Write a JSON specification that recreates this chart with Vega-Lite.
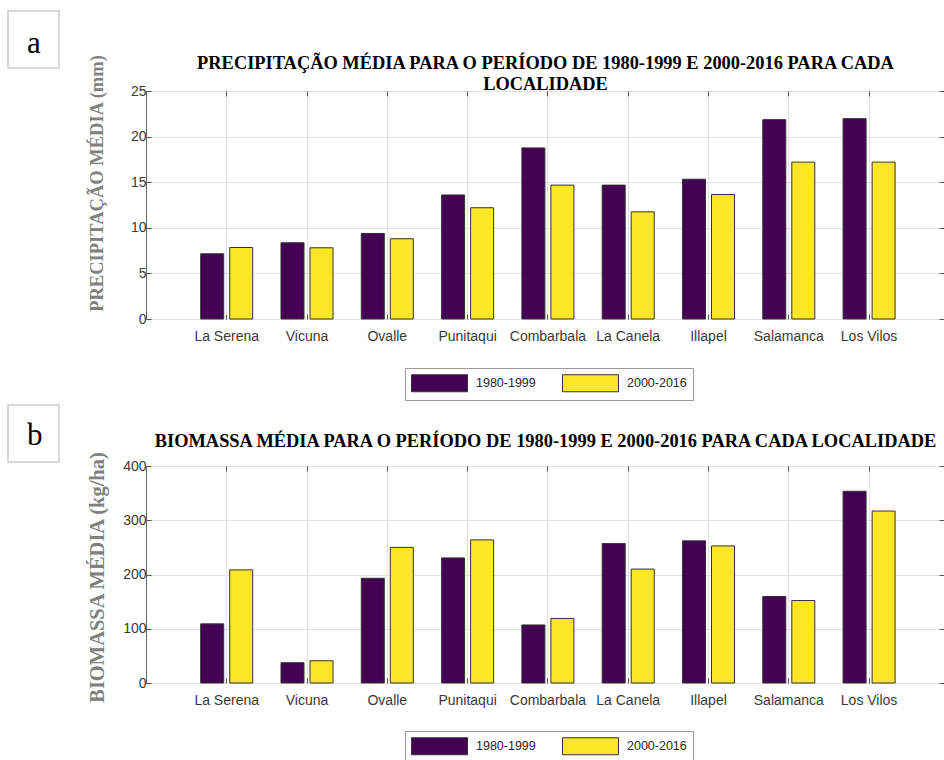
{
  "$schema": "https://vega.github.io/schema/vega-lite/v6.json",
  "background": "white",
  "padding": {"left": 6, "top": 16, "right": 0, "bottom": 0},
  "config": {
    "font": "Liberation Sans",
    "view": {"stroke": "#666666", "strokeWidth": 1}
  },
  "datasets": {
    "precip": [
      {"loc": "La Serena", "period": "1980-1999", "value": 7.15},
      {"loc": "La Serena", "period": "2000-2016", "value": 7.84},
      {"loc": "Vicuna", "period": "1980-1999", "value": 8.36},
      {"loc": "Vicuna", "period": "2000-2016", "value": 7.81},
      {"loc": "Ovalle", "period": "1980-1999", "value": 9.38},
      {"loc": "Ovalle", "period": "2000-2016", "value": 8.8},
      {"loc": "Punitaqui", "period": "1980-1999", "value": 13.6},
      {"loc": "Punitaqui", "period": "2000-2016", "value": 12.2},
      {"loc": "Combarbala", "period": "1980-1999", "value": 18.76},
      {"loc": "Combarbala", "period": "2000-2016", "value": 14.68},
      {"loc": "La Canela", "period": "1980-1999", "value": 14.68},
      {"loc": "La Canela", "period": "2000-2016", "value": 11.75},
      {"loc": "Illapel", "period": "1980-1999", "value": 15.33},
      {"loc": "Illapel", "period": "2000-2016", "value": 13.65},
      {"loc": "Salamanca", "period": "1980-1999", "value": 21.86},
      {"loc": "Salamanca", "period": "2000-2016", "value": 17.2},
      {"loc": "Los Vilos", "period": "1980-1999", "value": 21.97},
      {"loc": "Los Vilos", "period": "2000-2016", "value": 17.2}
    ],
    "biomass": [
      {"loc": "La Serena", "period": "1980-1999", "value": 109},
      {"loc": "La Serena", "period": "2000-2016", "value": 208.5},
      {"loc": "Vicuna", "period": "1980-1999", "value": 37.4},
      {"loc": "Vicuna", "period": "2000-2016", "value": 41},
      {"loc": "Ovalle", "period": "1980-1999", "value": 193},
      {"loc": "Ovalle", "period": "2000-2016", "value": 250},
      {"loc": "Punitaqui", "period": "1980-1999", "value": 230.6},
      {"loc": "Punitaqui", "period": "2000-2016", "value": 263.8},
      {"loc": "Combarbala", "period": "1980-1999", "value": 107},
      {"loc": "Combarbala", "period": "2000-2016", "value": 119},
      {"loc": "La Canela", "period": "1980-1999", "value": 257},
      {"loc": "La Canela", "period": "2000-2016", "value": 210},
      {"loc": "Illapel", "period": "1980-1999", "value": 262},
      {"loc": "Illapel", "period": "2000-2016", "value": 252.7},
      {"loc": "Salamanca", "period": "1980-1999", "value": 159.4},
      {"loc": "Salamanca", "period": "2000-2016", "value": 152},
      {"loc": "Los Vilos", "period": "1980-1999", "value": 353.4},
      {"loc": "Los Vilos", "period": "2000-2016", "value": 317}
    ]
  },
  "spacing": 8,
  "resolve": {"scale": {"color": "independent", "shape": "independent"}, "legend": {"color": "independent", "shape": "independent"}},
  "vconcat": [
    {
      "width": 798, "height": 228,
      "data": {"name": "precip"},
      "resolve": {"axis": {"x": "independent", "y": "independent"}},
      "layer": [
        {
          "mark": {"type": "bar", "stroke": "#333333", "strokeWidth": 1},
          "encoding": {
            "x": {"field": "loc", "type": "nominal",
              "sort": ["La Serena", "Vicuna", "Ovalle", "Punitaqui", "Combarbala", "La Canela", "Illapel", "Salamanca", "Los Vilos"],
              "scale": {"paddingInner": 0.352, "paddingOuter": 0.645, "align": 0.528},
              "axis": {"orient": "bottom", "title": null, "labelAngle": 0, "labelFont": "Liberation Sans", "labelFontSize": 14, "labelColor": "#3a3a3a", "labelPadding": 15, "tickSize": -5, "tickColor": "#555555", "grid": true, "gridColor": "#e2e2e2", "domain": false, "bandPosition": 0.5}},
            "xOffset": {"field": "period", "type": "nominal", "scale": {"paddingInner": 0.207}},
            "y": {"field": "value", "type": "quantitative", "scale": {"domain": [0, 25], "nice": false},
              "axis": {"title": "PRECIPITAÇÃO MÉDIA (mm)", "values": [0, 5, 10, 15, 20, 25], "labelFlush": false, "labelFont": "Liberation Sans", "labelFontSize": 14, "labelColor": "#3a3a3a", "labelPadding": 5, "tickSize": -5, "tickColor": "#555555", "grid": true, "gridColor": "#e2e2e2", "domain": false,
                "titleFont": "Liberation Serif", "titleFontSize": 18.5, "titleFontWeight": "bold", "titleColor": "#808080", "titleX": -40, "titleY": 92}},
            "color": {"field": "period", "type": "nominal",
              "scale": {"domain": ["1980-1999", "2000-2016"], "range": ["#440154", "#fde725"]},
              "legend": {"orient": "none", "legendX": 259, "legendY": 277, "direction": "horizontal", "title": null,
                "symbolType": "M-1,-1H5.588V1H-1Z", "symbolSize": 289, "symbolStrokeColor": "#333333", "symbolStrokeWidth": 1, "symbolOpacity": 1,
                "labelFont": "Liberation Sans", "labelFontSize": 12.5, "labelColor": "#262626", "labelOffset": 47, "columnPadding": 24,
                "padding": 6, "strokeColor": "#999999", "fillColor": "white"}}
          }
        },
        {
          "mark": {"type": "bar", "opacity": 0},
          "encoding": {
            "x": {"field": "loc", "type": "nominal",
              "sort": ["La Serena", "Vicuna", "Ovalle", "Punitaqui", "Combarbala", "La Canela", "Illapel", "Salamanca", "Los Vilos"],
              "axis": {"orient": "top", "labels": false, "tickSize": -5, "tickColor": "#555555", "grid": false, "domain": false, "bandPosition": 0.5,
                "title": ["PRECIPITAÇÃO MÉDIA PARA O PERÍODO DE 1980-1999 E 2000-2016 PARA CADA", "LOCALIDADE"],
                "titleFont": "Liberation Serif", "titleFontSize": 18.4, "titleFontWeight": "bold", "titleColor": "black", "titleLineHeight": 21, "titleBaseline": "bottom", "titlePadding": -3}},
            "xOffset": {"field": "period", "type": "nominal"},
            "y": {"field": "value", "type": "quantitative", "scale": {"domain": [0, 25], "nice": false},
              "axis": {"orient": "right", "title": null, "labels": false, "values": [0, 5, 10, 15, 20, 25], "tickSize": -5, "tickColor": "#555555", "grid": false, "domain": false}}
          }
        },
        {
          "data": {"values": [{"panel": "a"}]},
          "mark": {"type": "point", "opacity": 0},
          "encoding": {
            "shape": {"field": "panel", "type": "nominal", "scale": {"range": ["M-1,-1.2745H1V0.9608H-1Z"]},
              "legend": {"orient": "none", "legendX": -139, "legendY": -74, "title": null,
                "symbolSize": 2601, "symbolFillColor": "white", "symbolStrokeColor": "#cccccc", "symbolStrokeWidth": 1.5, "symbolOpacity": 1,
                "labelFont": "Liberation Serif", "labelFontSize": 31, "labelColor": "black", "labelOffset": -33, "padding": 0}}
          }
        }
      ]
    },
    {
      "width": 798, "height": 217,
      "data": {"name": "biomass"},
      "resolve": {"axis": {"x": "independent", "y": "independent"}},
      "layer": [
        {
          "mark": {"type": "bar", "stroke": "#333333", "strokeWidth": 1},
          "encoding": {
            "x": {"field": "loc", "type": "nominal",
              "sort": ["La Serena", "Vicuna", "Ovalle", "Punitaqui", "Combarbala", "La Canela", "Illapel", "Salamanca", "Los Vilos"],
              "scale": {"paddingInner": 0.352, "paddingOuter": 0.645, "align": 0.528},
              "axis": {"orient": "bottom", "title": null, "labelAngle": 0, "labelFont": "Liberation Sans", "labelFontSize": 14, "labelColor": "#3a3a3a", "labelPadding": 15, "tickSize": -5, "tickColor": "#555555", "grid": true, "gridColor": "#e2e2e2", "domain": false, "bandPosition": 0.5}},
            "xOffset": {"field": "period", "type": "nominal", "scale": {"paddingInner": 0.207}},
            "y": {"field": "value", "type": "quantitative", "scale": {"domain": [0, 400], "nice": false},
              "axis": {"title": "BIOMASSA MÉDIA (kg/ha)", "values": [0, 100, 200, 300, 400], "labelFlush": false, "labelFont": "Liberation Sans", "labelFontSize": 14, "labelColor": "#3a3a3a", "labelPadding": 5, "tickSize": -5, "tickColor": "#555555", "grid": true, "gridColor": "#e2e2e2", "domain": false,
                "titleFont": "Liberation Serif", "titleFontSize": 20.5, "titleFontWeight": "bold", "titleColor": "#808080", "titleX": -39, "titleY": 111}},
            "color": {"field": "period", "type": "nominal",
              "scale": {"domain": ["1980-1999", "2000-2016"], "range": ["#440154", "#fde725"]},
              "legend": {"orient": "none", "legendX": 259, "legendY": 265, "direction": "horizontal", "title": null,
                "symbolType": "M-1,-1H5.588V1H-1Z", "symbolSize": 289, "symbolStrokeColor": "#333333", "symbolStrokeWidth": 1, "symbolOpacity": 1,
                "labelFont": "Liberation Sans", "labelFontSize": 12.5, "labelColor": "#262626", "labelOffset": 47, "columnPadding": 24,
                "padding": 6, "strokeColor": "#999999", "fillColor": "white"}}
          }
        },
        {
          "mark": {"type": "bar", "opacity": 0},
          "encoding": {
            "x": {"field": "loc", "type": "nominal",
              "sort": ["La Serena", "Vicuna", "Ovalle", "Punitaqui", "Combarbala", "La Canela", "Illapel", "Salamanca", "Los Vilos"],
              "axis": {"orient": "top", "labels": false, "tickSize": -5, "tickColor": "#555555", "grid": false, "domain": false, "bandPosition": 0.5,
                "title": "BIOMASSA MÉDIA PARA O PERÍODO DE 1980-1999 E 2000-2016 PARA CADA LOCALIDADE",
                "titleFont": "Liberation Serif", "titleFontSize": 18.4, "titleFontWeight": "bold", "titleColor": "black", "titleBaseline": "bottom", "titlePadding": 15}},
            "xOffset": {"field": "period", "type": "nominal"},
            "y": {"field": "value", "type": "quantitative", "scale": {"domain": [0, 400], "nice": false},
              "axis": {"orient": "right", "title": null, "labels": false, "values": [0, 100, 200, 300, 400], "tickSize": -5, "tickColor": "#555555", "grid": false, "domain": false}}
          }
        },
        {
          "data": {"values": [{"panel": "b"}]},
          "mark": {"type": "point", "opacity": 0},
          "encoding": {
            "shape": {"field": "panel", "type": "nominal", "scale": {"range": ["M-1,-1.2157H1V1.0196H-1Z"]},
              "legend": {"orient": "none", "legendX": -139, "legendY": -56.5, "title": null,
                "symbolSize": 2601, "symbolFillColor": "white", "symbolStrokeColor": "#cccccc", "symbolStrokeWidth": 1.5, "symbolOpacity": 1,
                "labelFont": "Liberation Serif", "labelFontSize": 31, "labelColor": "black", "labelOffset": -33, "padding": 0}}
          }
        }
      ]
    }
  ]
}
